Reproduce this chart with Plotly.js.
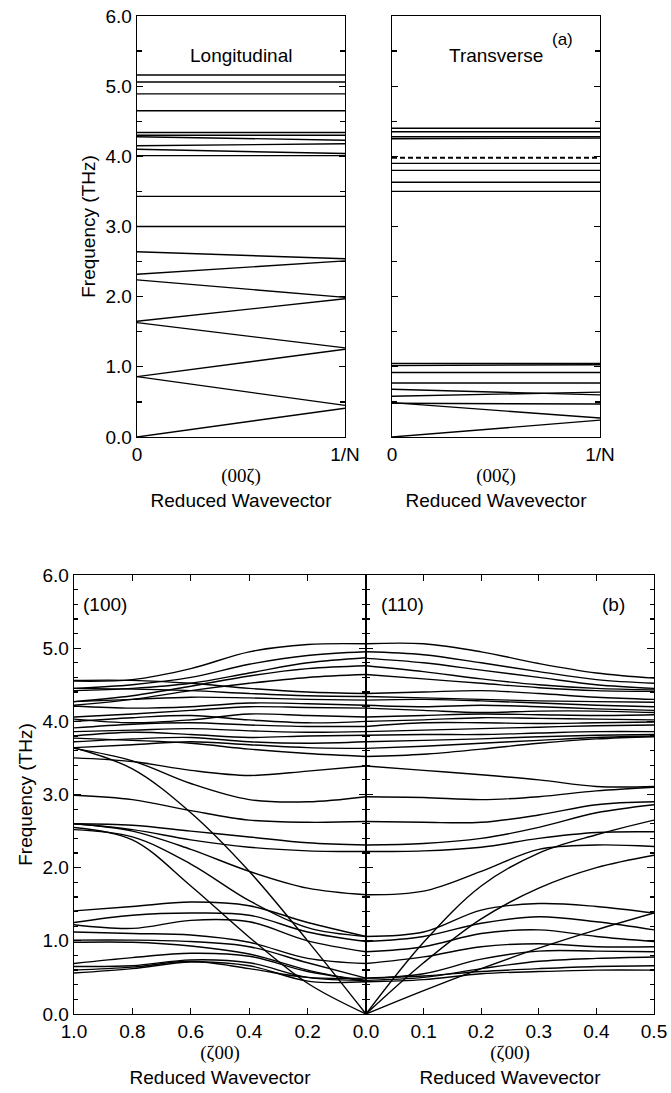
<!DOCTYPE html>
<html>
<head>
<meta charset="utf-8">
<script src="https://cdn.plot.ly/plotly-3.0.1.min.js"></script>
<style>html,body{margin:0;padding:0;background:#fff;}#chart{width:671px;height:1093px;}</style>
</head>
<body>
<div id="chart"></div>
<script>
// ---------- Panel (a): folded modes along (00ζ), from 0 to 1/N ----------
const zFold = [0, 1];
const zFoldTicks = ['0', '1/N'];
const longitudinalModes = [
  [5.16, 5.16], [5.06, 5.06], [4.89, 4.89], [4.65, 4.65],
  [4.34, 4.34], [4.30, 4.30], [4.28, 4.23], [4.15, 4.18],
  [4.10, 4.04], [4.01, 4.01], [3.43, 3.43], [3.00, 3.00],
  [2.64, 2.54], [2.32, 2.51], [2.24, 1.99], [1.65, 1.97],
  [1.63, 1.27], [0.86, 1.25], [0.86, 0.45], [0.00, 0.41]
];
const transverseModes = [
  [4.40, 4.40], [4.35, 4.35], [4.28, 4.28], [4.25, 4.26],
  [3.90, 3.90], [3.80, 3.80], [3.63, 3.63], [3.50, 3.50],
  [1.05, 1.05], [1.02, 1.03], [0.92, 0.92], [0.77, 0.77],
  [0.68, 0.60], [0.58, 0.64], [0.48, 0.47], [0.49, 0.27], [0.00, 0.24]
];
const transverseDashed = [3.98, 3.98];

// ---------- Panel (b): (100) branch, ζ from 1.0 down to 0.0 ----------
const z100 = [1.0, 0.8, 0.6, 0.4, 0.2, 0.0];
const z100Ticks = ['1.0', '0.8', '0.6', '0.4', '0.2', ''];
const modes100 = [
  [4.55, 4.57, 4.72, 4.95, 5.05, 5.06],
  [4.45, 4.50, 4.60, 4.78, 4.90, 4.95],
  [4.42, 4.45, 4.52, 4.66, 4.80, 4.87],
  [4.27, 4.35, 4.48, 4.62, 4.72, 4.76],
  [4.22, 4.30, 4.42, 4.52, 4.60, 4.64],
  [4.56, 4.56, 4.52, 4.45, 4.40, 4.38],
  [4.45, 4.44, 4.42, 4.38, 4.35, 4.34],
  [4.27, 4.30, 4.33, 4.32, 4.30, 4.29],
  [4.21, 4.18, 4.20, 4.25, 4.24, 4.22],
  [4.06, 4.10, 4.15, 4.20, 4.19, 4.18],
  [4.03, 3.98, 4.02, 4.10, 4.08, 4.06],
  [4.00, 4.05, 4.08, 4.02, 3.98, 4.00],
  [3.91, 3.96, 3.98, 3.95, 3.93, 3.93],
  [3.86, 3.88, 3.90, 3.87, 3.85, 3.86],
  [3.80, 3.85, 3.82, 3.78, 3.80, 3.81],
  [3.72, 3.76, 3.78, 3.72, 3.70, 3.72],
  [3.77, 3.74, 3.70, 3.62, 3.56, 3.52],
  [3.64, 3.68, 3.72, 3.68, 3.64, 3.63],
  [3.50, 3.45, 3.33, 3.26, 3.32, 3.39],
  [3.63, 3.46, 3.15, 2.93, 2.90, 2.97],
  [2.99, 2.93, 2.78, 2.65, 2.62, 2.63],
  [2.60, 2.58, 2.50, 2.42, 2.34, 2.31],
  [2.60, 2.52, 2.38, 2.28, 2.23, 2.22],
  [2.60, 2.50, 2.25, 1.95, 1.72, 1.63],
  [2.52, 2.42, 2.05, 1.55, 1.18, 1.06],
  [3.64, 3.35, 2.75, 1.95, 1.00, 0.00],
  [2.55, 2.38, 1.75, 1.05, 0.42, 0.00],
  [1.41, 1.47, 1.53, 1.48, 1.25, 1.06],
  [1.25, 1.35, 1.38, 1.35, 1.12, 0.99],
  [1.22, 1.17, 1.28, 1.26, 1.00, 0.85],
  [1.12, 1.10, 1.08, 0.98, 0.76, 0.69],
  [1.01, 1.01, 0.99, 0.92, 0.70, 0.49],
  [0.98, 0.98, 0.93, 0.82, 0.60, 0.44],
  [0.69, 0.77, 0.83, 0.79, 0.58, 0.46],
  [0.65, 0.66, 0.74, 0.70, 0.50, 0.46],
  [0.56, 0.62, 0.71, 0.66, 0.45, 0.44],
  [0.60, 0.64, 0.72, 0.62, 0.50, 0.49]
];

// ---------- Panel (b): (110) branch, ζ from 0.0 to 0.5 ----------
const z110 = [0.0, 0.1, 0.2, 0.3, 0.4, 0.5];
const modes110 = [
  [5.06, 5.06, 4.95, 4.79, 4.66, 4.59],
  [4.95, 4.91, 4.80, 4.68, 4.57, 4.52],
  [4.86, 4.80, 4.70, 4.60, 4.50, 4.45],
  [4.76, 4.68, 4.58, 4.50, 4.45, 4.43],
  [4.64, 4.58, 4.52, 4.46, 4.42, 4.41],
  [4.38, 4.40, 4.42, 4.38, 4.33, 4.30],
  [4.34, 4.32, 4.30, 4.28, 4.27, 4.26],
  [4.29, 4.30, 4.28, 4.25, 4.22, 4.20],
  [4.22, 4.20, 4.22, 4.20, 4.17, 4.15],
  [4.18, 4.15, 4.12, 4.14, 4.14, 4.12],
  [4.06, 4.08, 4.10, 4.09, 4.08, 4.09],
  [4.00, 4.02, 4.05, 4.04, 4.03, 4.02],
  [3.93, 3.98, 3.98, 3.97, 3.98, 3.99],
  [3.86, 3.88, 3.90, 3.92, 3.94, 3.95],
  [3.81, 3.82, 3.82, 3.84, 3.86, 3.86],
  [3.72, 3.74, 3.76, 3.79, 3.81, 3.82],
  [3.63, 3.66, 3.70, 3.74, 3.78, 3.80],
  [3.52, 3.55, 3.62, 3.70, 3.76, 3.79],
  [3.39, 3.33, 3.27, 3.20, 3.11, 3.11],
  [2.97, 2.96, 2.93, 2.97, 3.05, 3.10],
  [2.63, 2.62, 2.62, 2.72, 2.86, 2.90],
  [2.31, 2.33, 2.40, 2.55, 2.75, 2.86],
  [2.22, 2.23, 2.28, 2.40, 2.48, 2.49],
  [1.63, 1.68, 1.95, 2.25, 2.31, 2.29],
  [1.06, 1.12, 1.42, 1.51, 1.47, 1.38],
  [0.99, 1.06, 1.24, 1.33, 1.26, 1.15],
  [0.85, 0.92, 1.10, 1.15, 1.06, 0.99],
  [0.69, 0.78, 0.92, 0.96, 0.92, 0.92],
  [0.49, 0.55, 0.75, 0.86, 0.86, 0.85],
  [0.46, 0.50, 0.62, 0.72, 0.76, 0.78],
  [0.44, 0.47, 0.55, 0.58, 0.60, 0.60],
  [0.49, 0.52, 0.58, 0.62, 0.65, 0.66],
  [0.00, 0.98, 1.75, 2.20, 2.45, 2.65],
  [0.00, 0.70, 1.30, 1.72, 2.00, 2.17],
  [0.00, 0.32, 0.62, 0.90, 1.15, 1.38]
];

const FONT = 'Liberation Sans, Arial, Helvetica, sans-serif';
const SERIF = 'Liberation Serif, Times New Roman, serif';
const FS = 19;
const LW = 1.4;

const traces = [];
function addSet(xs, sets, xa, ya, shape, dash, width) {
  sets.forEach(function (ys) {
    traces.push({
      x: xs, y: ys, xaxis: xa, yaxis: ya, type: 'scatter', mode: 'lines',
      line: {color: 'black', width: width || LW, shape: shape, dash: dash || 'solid'},
      showlegend: false, hoverinfo: 'skip'
    });
  });
}
addSet(zFold, longitudinalModes, 'x', 'y', 'linear');
addSet(zFold, transverseModes, 'x2', 'y2', 'linear');
addSet(zFold, [transverseDashed], 'x2', 'y2', 'linear', '5px,3px', 1.8);
addSet(z100, modes100, 'x3', 'y3', 'spline');
addSet(z110, modes110, 'x4', 'y4', 'spline');

const W = 671, H = 1093;
function dx(a, b) { return [a / W, b / W]; }
function dy(top, bottom) { return [1 - bottom / H, 1 - top / H]; }

const baseAxis = {
  showline: true, linecolor: 'black', linewidth: LW, showgrid: false, zeroline: false,
  tickfont: {family: FONT, size: FS, color: 'black'}, tickcolor: 'black', tickwidth: 1.2
};
const xTitle = function (dir) {
  return {text: '<span style="font-family:' + SERIF + '">' + dir + '</span><br>Reduced Wavevector',
          font: {family: FONT, size: FS, color: 'black'}, standoff: 2};
};
const yTitle = {text: 'Frequency (THz)', font: {family: FONT, size: FS, color: 'black'}, standoff: 4};

const layout = {
  width: W, height: H,
  margin: {l: 0, r: 0, t: 0, b: 0},
  paper_bgcolor: 'white', plot_bgcolor: 'white',
  font: {family: FONT, size: FS, color: 'black'},
  xaxis: Object.assign({}, baseAxis, {
    domain: dx(137, 345), anchor: 'y', range: [0, 1], mirror: true, ticks: '',
    tickvals: zFold, ticktext: zFoldTicks, title: xTitle('(00ζ)')
  }),
  yaxis: Object.assign({}, baseAxis, {
    domain: dy(16, 437), anchor: 'x', range: [0, 6], dtick: 1, tickformat: '.1f',
    ticks: 'inside', ticklen: 6, mirror: 'ticks',
    minor: {dtick: 0.5, ticks: 'inside', ticklen: 5, tickcolor: 'black'},
    title: yTitle
  }),
  xaxis2: Object.assign({}, baseAxis, {
    domain: dx(392, 600), anchor: 'y2', range: [0, 1], mirror: true, ticks: '',
    tickvals: zFold, ticktext: zFoldTicks, title: xTitle('(00ζ)')
  }),
  yaxis2: Object.assign({}, baseAxis, {
    domain: dy(16, 437), anchor: 'x2', range: [0, 6], dtick: 1,
    ticks: 'inside', ticklen: 6, mirror: 'ticks', showticklabels: false,
    minor: {dtick: 0.5, ticks: 'inside', ticklen: 5, tickcolor: 'black'}
  }),
  xaxis3: Object.assign({}, baseAxis, {
    domain: dx(74, 366), anchor: 'y3', range: [1, 0], mirror: 'ticks',
    ticks: 'inside', ticklen: 6, tickvals: z100, ticktext: z100Ticks,
    title: xTitle('(ζ00)')
  }),
  yaxis3: Object.assign({}, baseAxis, {
    domain: dy(575, 1014), anchor: 'x3', range: [0, 6], dtick: 1, tickformat: '.1f',
    ticks: 'inside', ticklen: 7, mirror: 'ticks',
    minor: {dtick: 0.2, ticks: 'inside', ticklen: 4, tickcolor: 'black'},
    title: yTitle
  }),
  xaxis4: Object.assign({}, baseAxis, {
    domain: dx(366, 654), anchor: 'y4', range: [0, 0.5], mirror: 'ticks',
    ticks: 'inside', ticklen: 6, tickvals: z110, tickformat: '.1f',
    title: xTitle('(ζ00)')
  }),
  yaxis4: Object.assign({}, baseAxis, {
    domain: dy(575, 1014), anchor: 'x4', range: [0, 6], dtick: 1,
    ticks: 'inside', ticklen: 7, mirror: 'ticks', showticklabels: false,
    minor: {dtick: 0.2, ticks: 'inside', ticklen: 4, tickcolor: 'black'}
  }),
  annotations: [
    {xref: 'x', yref: 'y', x: 0.5, y: 5.44, text: 'Longitudinal', showarrow: false,
     font: {family: FONT, size: FS, color: 'black'}},
    {xref: 'x2', yref: 'y2', x: 0.5, y: 5.44, text: 'Transverse', showarrow: false,
     font: {family: FONT, size: FS, color: 'black'}},
    {xref: 'x2', yref: 'y2', x: 0.82, y: 5.66, text: '(a)', showarrow: false,
     font: {family: FONT, size: 17, color: 'black'}},
    {xref: 'x3', yref: 'y3', x: 0.975, y: 5.6, xanchor: 'left', text: '(100)', showarrow: false,
     font: {family: FONT, size: FS, color: 'black'}},
    {xref: 'x4', yref: 'y4', x: 0.022, y: 5.6, xanchor: 'left', text: '(110)', showarrow: false,
     font: {family: FONT, size: FS, color: 'black'}},
    {xref: 'x4', yref: 'y4', x: 0.429, y: 5.6, text: '(b)', showarrow: false,
     font: {family: FONT, size: FS, color: 'black'}}
  ]
};

Plotly.newPlot('chart', traces, layout, {displayModeBar: false, staticPlot: true});
</script>
</body>
</html>
